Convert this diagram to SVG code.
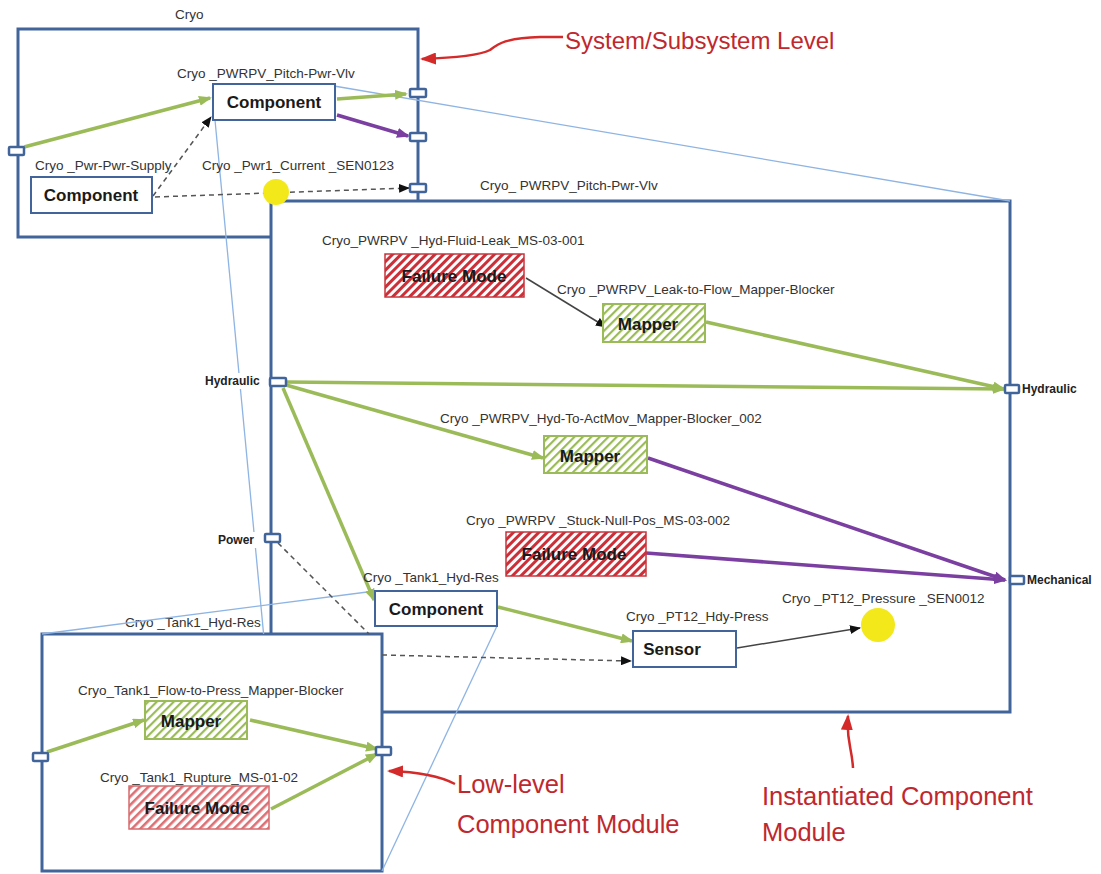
<svg xmlns="http://www.w3.org/2000/svg" width="1101" height="874" viewBox="0 0 1101 874">
<style>
text{font-family:"Liberation Sans",Arial,sans-serif;}
.lbl{font-size:13.5px;fill:#333;}
.plbl{font-size:12px;font-weight:bold;fill:#222;}
.ntxt{font-size:17px;font-weight:bold;fill:#1a1a1a;text-anchor:middle;}
.note{font-size:24px;fill:#c0282e;}
.note2{font-size:25.5px;fill:#c0282e;}
.box{fill:#fff;stroke:#41649a;stroke-width:3;}
.comp{fill:#fff;stroke:#41649a;stroke-width:2;}
.port{fill:#fff;stroke:#41649a;stroke-width:2.5;}
.fm{fill:url(#hr);stroke:#c8343c;stroke-width:1.5;}
.fm2{fill:url(#hr2);stroke:#d86a6e;stroke-width:1.5;}
.mp{fill:url(#hg);stroke:#9bbb59;stroke-width:2;}
.g{fill:none;stroke:#9bbb59;stroke-width:3.5;}
.p{fill:none;stroke:#7a3fa0;stroke-width:3.5;}
.d{fill:none;stroke:#555;stroke-width:1.5;stroke-dasharray:5 4;}
.k{fill:none;stroke:#444;stroke-width:1.5;}
.t{fill:none;stroke:#8eb4e3;stroke-width:1.3;}
.r{fill:none;stroke:#d42a2a;stroke-width:2.5;}
.yc{fill:#f2e81a;}
</style>
<defs>
<pattern id="hr" width="6" height="6" patternUnits="userSpaceOnUse" patternTransform="rotate(45)"><rect width="6" height="6" fill="#fff"/><rect width="3" height="6" fill="#cc2f38"/></pattern>
<pattern id="hr2" width="6" height="6" patternUnits="userSpaceOnUse" patternTransform="rotate(45)"><rect width="6" height="6" fill="#fff"/><rect width="2.6" height="6" fill="#dd7074"/></pattern>
<pattern id="hg" width="6" height="6" patternUnits="userSpaceOnUse" patternTransform="rotate(45)"><rect width="6" height="6" fill="#fff"/><rect width="2.2" height="6" fill="#9bbb59"/></pattern>
<marker id="ag" markerWidth="13" markerHeight="10" refX="11" refY="5" orient="auto" markerUnits="userSpaceOnUse"><path d="M0,0 L13,5 L0,10 z" fill="#9bbb59"/></marker>
<marker id="ap" markerWidth="13" markerHeight="10" refX="11" refY="5" orient="auto" markerUnits="userSpaceOnUse"><path d="M0,0 L13,5 L0,10 z" fill="#7a3fa0"/></marker>
<marker id="ak" markerWidth="11" markerHeight="9" refX="10" refY="4.5" orient="auto" markerUnits="userSpaceOnUse"><path d="M0,0 L11,4.5 L0,9 z" fill="#111"/></marker>
<marker id="ar" markerWidth="16" markerHeight="12" refX="14" refY="6" orient="auto" markerUnits="userSpaceOnUse"><path d="M0,0 L16,6 L0,12 z" fill="#d42a2a"/></marker>
</defs>

<g id="container-cryo">
<rect class="box" x="18" y="29" width="400" height="208"/>
<text class="lbl" x="175" y="19">Cryo</text>
</g>
<g id="container-instantiated">
<rect class="box" x="271" y="201" width="739" height="511"/>
<text class="lbl" x="480" y="190">Cryo_ PWRPV_Pitch-Pwr-Vlv</text>
</g>
<g id="container-lowlevel">
<rect class="box" x="42" y="634" width="340" height="237"/>
<text class="lbl" x="125" y="627">Cryo _Tank1_Hyd-Res</text>
</g>

<g id="connectors">
<line class="t" x1="334" y1="86" x2="1010" y2="201"/>
<line class="t" x1="215" y1="120" x2="263.6" y2="634"/>
<line class="t" x1="375" y1="591" x2="42" y2="634"/>
<line class="t" x1="497" y1="626" x2="382" y2="871"/>
<line class="g" x1="24" y1="147" x2="210" y2="98" marker-end="url(#ag)"/>
<line class="g" x1="337" y1="99" x2="406" y2="94" marker-end="url(#ag)"/>
<line class="p" x1="337" y1="115" x2="408" y2="136" marker-end="url(#ap)"/>
<line class="d" x1="153" y1="196" x2="211" y2="117" marker-end="url(#ak)"/>
<line class="d" x1="155" y1="197" x2="409" y2="188" marker-end="url(#ak)"/>
<line class="k" x1="526" y1="278" x2="606" y2="327" marker-end="url(#ak)"/>
<line class="g" x1="706" y1="322" x2="1004" y2="389" marker-end="url(#ag)"/>
<line class="g" x1="286" y1="382" x2="1004" y2="389" marker-end="url(#ag)"/>
<line class="g" x1="286" y1="385" x2="543" y2="458" marker-end="url(#ag)"/>
<line class="g" x1="283" y1="388" x2="374" y2="600" marker-end="url(#ag)"/>
<line class="p" x1="648" y1="458" x2="1005" y2="580" marker-end="url(#ap)"/>
<line class="p" x1="646" y1="553" x2="1005" y2="580" marker-end="url(#ap)"/>
<line class="g" x1="498" y1="607" x2="632" y2="641" marker-end="url(#ag)"/>
<path class="d" d="M278,543 L369,634"/>
<path class="d" d="M382,655 L631,661" marker-end="url(#ak)"/>
<line class="k" x1="737" y1="648" x2="860" y2="628" marker-end="url(#ak)"/>
<line class="g" x1="47" y1="752" x2="144" y2="720" marker-end="url(#ag)"/>
<line class="g" x1="250" y1="720" x2="377" y2="749" marker-end="url(#ag)"/>
<line class="g" x1="271" y1="809" x2="377" y2="754" marker-end="url(#ag)"/>
</g>

<g id="comp-pitch-pwr-vlv">
<text class="lbl" x="177" y="78">Cryo _PWRPV_Pitch-Pwr-Vlv</text>
<rect class="comp" x="213" y="84" width="122" height="36"/>
<text class="ntxt" x="274" y="108">Component</text>
</g>
<g id="comp-pwr-supply">
<text class="lbl" x="35" y="170">Cryo _Pwr-Pwr-Supply</text>
<rect class="comp" x="31" y="177" width="121" height="36"/>
<text class="ntxt" x="91" y="201">Component</text>
</g>
<g id="sensor-pwr1-current">
<text class="lbl" x="202" y="170">Cryo _Pwr1_Current _SEN0123</text>
<circle class="yc" cx="276" cy="192" r="13"/>
</g>
<g id="ports-cryo">
<rect class="port" x="9" y="147" width="15" height="8" rx="1"/>
<rect class="port" x="410" y="89" width="16" height="8" rx="1"/>
<rect class="port" x="410" y="133" width="16" height="8" rx="1"/>
<rect class="port" x="410" y="184" width="16" height="8" rx="1"/>
</g>
<g id="fm-hyd-fluid-leak">
<text class="lbl" x="322" y="245">Cryo_PWRPV _Hyd-Fluid-Leak_MS-03-001</text>
<rect class="fm" x="385" y="254" width="139" height="43"/>
<text class="ntxt" x="454" y="282">Failure Mode</text>
</g>
<g id="mapper-leak-to-flow">
<text class="lbl" x="557" y="294">Cryo _PWRPV_Leak-to-Flow_Mapper-Blocker</text>
<rect class="mp" x="603" y="304" width="102" height="38"/>
<text class="ntxt" x="648" y="330">Mapper</text>
</g>
<g id="mapper-hyd-to-actmov">
<text class="lbl" x="440" y="423">Cryo _PWRPV_Hyd-To-ActMov_Mapper-Blocker_002</text>
<rect class="mp" x="544" y="436" width="103" height="37"/>
<text class="ntxt" x="590" y="462">Mapper</text>
</g>
<g id="fm-stuck-null-pos">
<text class="lbl" x="466" y="525">Cryo _PWRPV _Stuck-Null-Pos_MS-03-002</text>
<rect class="fm" x="506" y="532" width="140" height="44"/>
<text class="ntxt" x="574" y="560">Failure Mode</text>
</g>
<g id="comp-tank1-hyd-res">
<text class="lbl" x="363" y="582">Cryo _Tank1_Hyd-Res</text>
<rect class="comp" x="375" y="591" width="122" height="35"/>
<text class="ntxt" x="436" y="615">Component</text>
</g>
<g id="sensor-pt12-hdy-press">
<text class="lbl" x="626" y="621">Cryo _PT12_Hdy-Press</text>
<rect class="comp" x="633" y="631" width="103" height="36"/>
<text class="ntxt" x="672" y="655">Sensor</text>
</g>
<g id="sensor-pt12-pressure">
<text class="lbl" x="782" y="603">Cryo _PT12_Pressure _SEN0012</text>
<circle class="yc" cx="878" cy="625" r="17"/>
</g>
<g id="port-hydraulic-in">
<rect x="204" y="373" width="62" height="16" fill="#fff"/>
<text class="plbl" x="205" y="385">Hydraulic</text>
<rect class="port" x="270" y="378" width="16" height="8" rx="1"/>
</g>
<g id="port-power">
<rect x="216" y="532" width="48" height="16" fill="#fff"/>
<text class="plbl" x="218" y="544">Power</text>
<rect class="port" x="265" y="534" width="15" height="8" rx="1"/>
</g>
<g id="port-hydraulic-out">
<rect class="port" x="1005" y="385" width="14" height="8" rx="1"/>
<text class="plbl" x="1022" y="393">Hydraulic</text>
</g>
<g id="port-mechanical">
<rect class="port" x="1010" y="576" width="14" height="8" rx="1"/>
<text class="plbl" x="1027" y="584">Mechanical</text>
</g>
<g id="mapper-flow-to-press">
<text class="lbl" x="78" y="695">Cryo_Tank1_Flow-to-Press_Mapper-Blocker</text>
<rect class="mp" x="145" y="701" width="102" height="38"/>
<text class="ntxt" x="191" y="727">Mapper</text>
</g>
<g id="fm-tank1-rupture">
<text class="lbl" x="100" y="782">Cryo _Tank1_Rupture_MS-01-02</text>
<rect class="fm2" x="129" y="786" width="140" height="43"/>
<text class="ntxt" x="197" y="814">Failure Mode</text>
</g>
<g id="ports-lowlevel">
<rect class="port" x="33" y="753" width="15" height="8" rx="1"/>
<rect class="port" x="376" y="747" width="15" height="8" rx="1"/>
</g>

<g id="annotations">
<path class="r" d="M563,37 L540,37 C505,38 498,44 490,50 C478,56 450,58 422,59" marker-end="url(#ar)"/>
<text class="note" x="565" y="49">System/Subsystem Level</text>
<path class="r" d="M455,784 C440,776 420,772 389,771" marker-end="url(#ar)"/>
<text class="note2" x="457" y="793">Low-level</text>
<text class="note2" x="457" y="833">Component Module</text>
<path class="r" d="M853,768 C852,748 846,740 848,716" marker-end="url(#ar)"/>
<text class="note2" x="762" y="805">Instantiated Component</text>
<text class="note2" x="762" y="841">Module</text>
</g>
</svg>
